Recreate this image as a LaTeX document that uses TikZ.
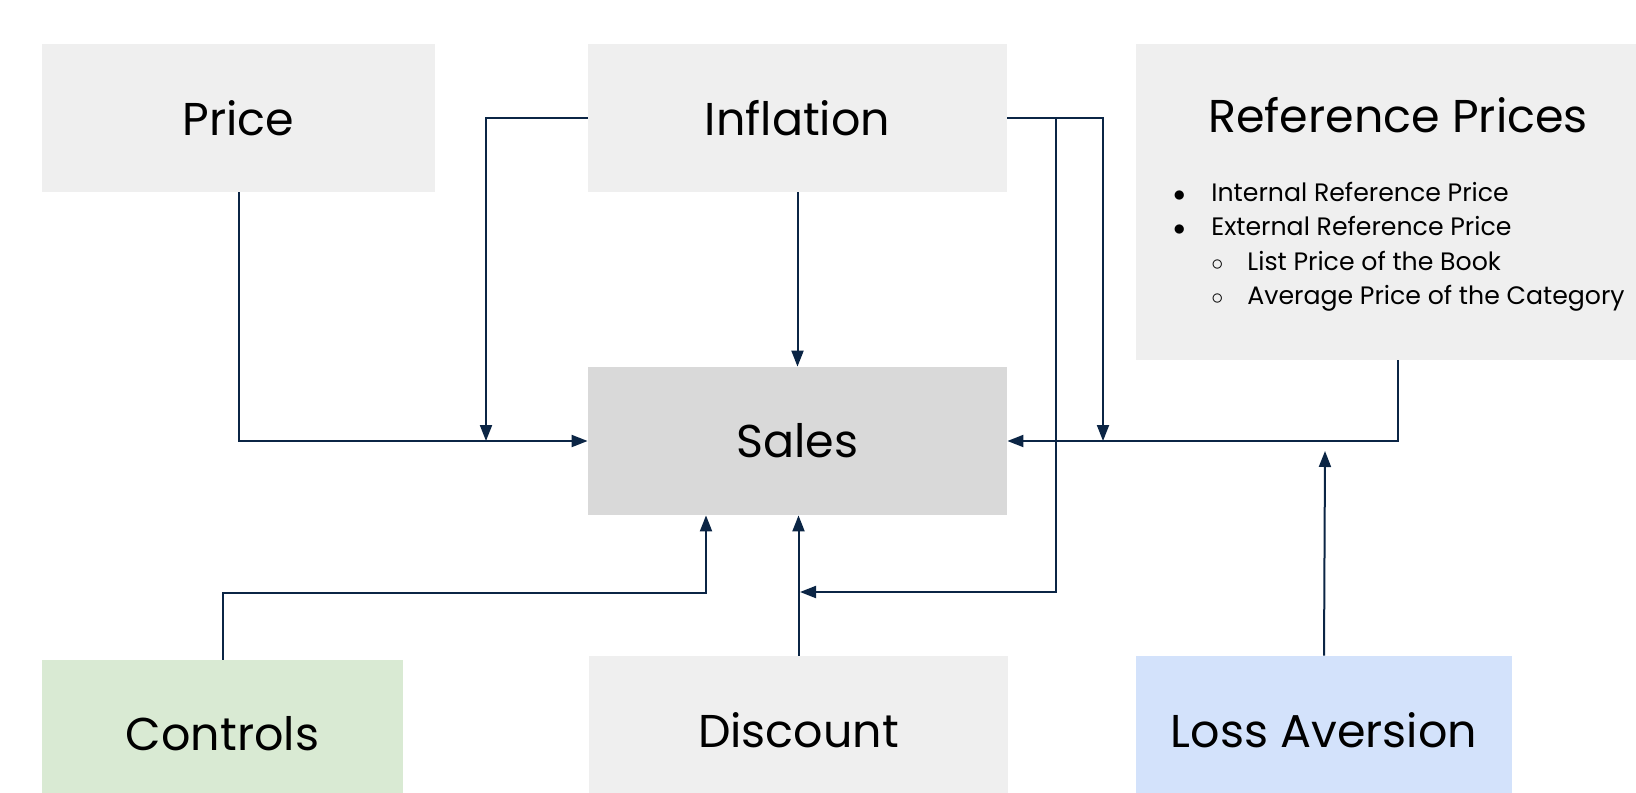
\documentclass[tikz,border=0pt]{standalone}
\usepackage{fontspec}
\setmainfont{Poppins}
\usetikzlibrary{arrows.meta}

\definecolor{boxgray}{HTML}{EFEFEF}
\definecolor{salesgray}{HTML}{D9D9D9}
\definecolor{ctrlgreen}{HTML}{D9EAD3}
\definecolor{lossblue}{HTML}{D3E2FB}
\definecolor{navy}{HTML}{0B2545}

\newcommand{\lvlone}[1]{\makebox[19pt][l]{$\bullet$}#1}
\newcommand{\lvltwo}[1]{\hspace{19pt}\makebox[18pt][l]{$\circ$}#1}

\begin{document}
\begin{tikzpicture}[x=0.5pt, y=-0.5pt,
  box/.style={fill=boxgray, inner sep=0pt, minimum height=74pt, font=\fontsize{23}{28}\selectfont},
  arr/.style={draw=navy, line width=1pt, -{Triangle[length=8pt,width=6pt]}},
  item/.style={anchor=base west, inner sep=0pt, font=\fontsize{12.6}{15}\selectfont}]
\useasboundingbox (0,0) rectangle (1636,792);
\node[box, minimum width=196.5pt] (price) at (238.5,118) {Price};
\node[box, minimum width=209.5pt] (infl) at (797.5,118) {Inflation};
\node[box, minimum width=262pt, minimum height=158pt] (refp) at (1398,202) {};
\node[font=\fontsize{23}{28}\selectfont] (reft) at (1398,115) {Reference Prices};
\node[item] (l1) at (1173,201) {\lvlone{Internal Reference Price}};
\node[item] (l2) at (1173,235) {\lvlone{External Reference Price}};
\node[item] (l3) at (1173,270) {\lvltwo{List Price of the Book}};
\node[item] (l4) at (1173,304) {\lvltwo{Average Price of the Category}};
\node[box, fill=salesgray, minimum width=209.5pt] (sales) at (797.5,441) {Sales};
\node[box, fill=ctrlgreen, minimum width=180.5pt] (ctrl) at (222.5,734) {Controls};
\node[box, minimum width=209.5pt] (disc) at (798.5,730) {Discount};
\node[box, fill=lossblue, minimum width=188pt] (loss) at (1324,730) {Loss Aversion};

\coordinate (p1) at (486,441);
\coordinate (p2) at (1103,441);
\coordinate (p3) at (1056,592);
\coordinate (p4) at (800,592);
\coordinate (p5) at (706,593);
\coordinate (p6) at (1325,451);

\draw[arr] (price.south) |- (sales.west);
\draw[arr] (infl.west) -| (p1);
\draw[arr] (infl.south) -- (sales.north);
\draw[arr] (infl.east) -| (p2);
\draw[arr] (infl.east) -| (p3) -- (p4);
\draw[arr] (refp.south) |- (sales.east);
\draw[arr] (loss.north) -- (p6);
\draw[arr] (ctrl.north) |- (p5) -- (p5 |- sales.south);
\draw[arr] (disc.north) -- (disc.north |- sales.south);
\end{tikzpicture}
\end{document}
